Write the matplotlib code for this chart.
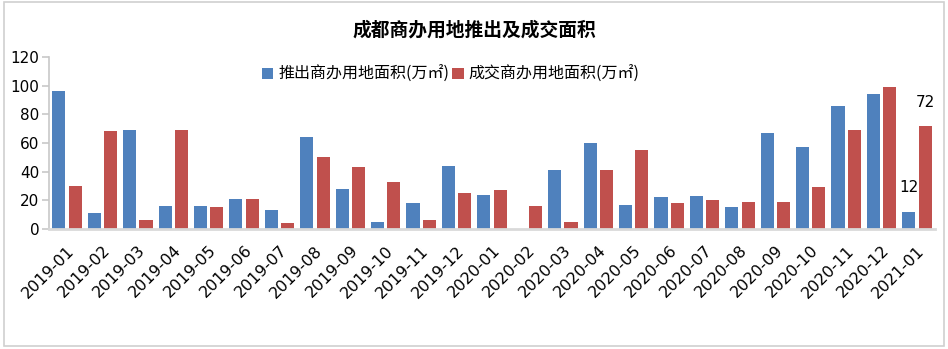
import matplotlib
matplotlib.use("Agg")
import matplotlib.pyplot as plt
import numpy as np
from matplotlib.patches import Rectangle

plt.rcParams["font.family"] = ["Noto Sans CJK SC", "DejaVu Sans"]

# ── 数据 ──
months = ["2019-01", "2019-02", "2019-03", "2019-04", "2019-05", "2019-06",
          "2019-07", "2019-08", "2019-09", "2019-10", "2019-11", "2019-12",
          "2020-01", "2020-02", "2020-03", "2020-04", "2020-05", "2020-06",
          "2020-07", "2020-08", "2020-09", "2020-10", "2020-11", "2020-12",
          "2021-01"]
supply = [96, 11, 69, 16, 16, 21, 13, 64, 28, 5, 18, 44,
          24, 0, 41, 60, 17, 22, 23, 15, 67, 57, 86, 94, 12]
deal = [30, 68, 6, 69, 15, 21, 4, 50, 43, 33, 6, 25,
        27, 16, 5, 41, 55, 18, 20, 19, 19, 29, 69, 99, 72]
yticks = [0, 20, 40, 60, 80, 100, 120]

BLUE = "#4F81BD"
RED = "#C0504D"
GRAY = "#C8C8C8"
NUM_FONT = "DejaVu Sans"

fig = plt.figure(figsize=(9.48, 3.49), dpi=100)
fig.patches.append(Rectangle((0.004, 0.008), 0.992, 0.985, transform=fig.transFigure,
                             fill=False, edgecolor="#D0D0D0", linewidth=1.2))
ax = fig.add_axes([0.052, 0.344, 0.934, 0.493])

x = np.arange(len(months))
w = 0.37
off = 0.23
ax.bar(x - off, supply, w, color=BLUE, label="推出商办用地面积(万㎡)")
ax.bar(x + off, deal, w, color=RED, label="成交商办用地面积(万㎡)")

# 最后一期标注
ax.annotate(f"{supply[-1]}", (x[-1] - off, supply[-1]), textcoords="offset pixels",
            xytext=(0, 24), ha="center", va="center", fontsize=11, family=NUM_FONT)
ax.annotate(f"{deal[-1]}", (x[-1] + off, deal[-1]), textcoords="offset pixels",
            xytext=(0, 23), ha="center", va="center", fontsize=11, family=NUM_FONT)

ax.set_xlim(-0.5, len(months) - 0.5)
ax.set_ylim(0, 120)
ax.set_yticks(yticks)
ax.set_yticklabels([str(v) for v in yticks], fontsize=11, family=NUM_FONT)
ax.set_xticks(x)
ax.set_xticklabels(months, rotation=45, ha="right", rotation_mode="anchor",
                   fontsize=11.5, family=NUM_FONT)
ax.tick_params(axis="x", length=0, pad=10)
ax.tick_params(axis="y", length=5, color=GRAY, width=1.2, pad=2)

for s in ["top", "right"]:
    ax.spines[s].set_visible(False)
ax.spines["left"].set_color(GRAY)
ax.spines["left"].set_linewidth(1.2)
ax.spines["bottom"].set_color("#D9D9D9")
ax.spines["bottom"].set_linewidth(2)

ax.legend(loc="upper center", bbox_to_anchor=(0.4535, 1.03), ncol=2, frameon=False,
          fontsize=11.5, handlelength=0.7, handleheight=0.7, handletextpad=0.3,
          columnspacing=0.2)

fig.text(0.5, 0.915, "成都商办用地推出及成交面积", ha="center", va="center",
         fontsize=13.5, fontweight="bold")

fig.savefig("out.png", dpi=100)
